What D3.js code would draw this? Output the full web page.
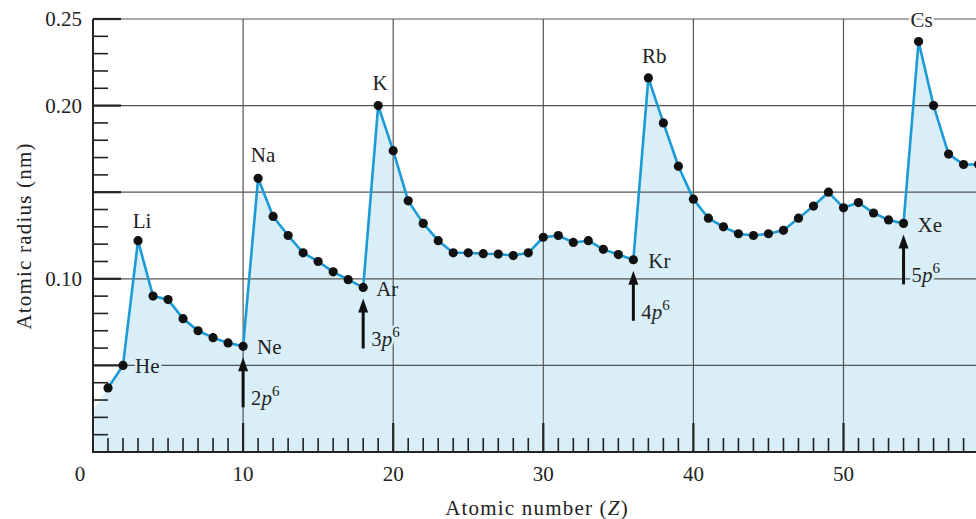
<!DOCTYPE html>
<html>
<head>
<meta charset="utf-8">
<script src="https://cdn.jsdelivr.net/npm/d3@7"></script>
<style>
  html, body { margin: 0; padding: 0; background: #fff; }
  svg { display: block; font-family: "Liberation Serif", "Times New Roman", serif; }
</style>
</head>
<body>
<div id="chart"></div>
<script>
// atomic radius (nm) for Z = 1 .. 59
const radii = [
  0.037, 0.050, 0.122, 0.090, 0.088, 0.077, 0.070, 0.066, 0.063, 0.061,
  0.158, 0.136, 0.125, 0.115, 0.110, 0.104, 0.0995, 0.095,
  0.200, 0.174, 0.145, 0.132, 0.122, 0.115, 0.115, 0.1145, 0.1143, 0.1134,
  0.115, 0.124, 0.125, 0.121, 0.122, 0.117, 0.114, 0.111,
  0.216, 0.190, 0.165, 0.146, 0.135, 0.130, 0.126, 0.125, 0.126, 0.128,
  0.135, 0.142, 0.150, 0.141, 0.144, 0.138, 0.134, 0.132,
  0.237, 0.200, 0.172, 0.166, 0.166
];
const points = radii.map((r, i) => ({ z: i + 1, r: r }));

const elementLabels = [
  { z: 2, name: "He" }, { z: 3, name: "Li" }, { z: 10, name: "Ne" },
  { z: 11, name: "Na" }, { z: 18, name: "Ar" }, { z: 19, name: "K" },
  { z: 36, name: "Kr" }, { z: 37, name: "Rb" }, { z: 54, name: "Xe" },
  { z: 55, name: "Cs" }
];
const shells = [
  { z: 10, n: "2" }, { z: 18, n: "3" }, { z: 36, n: "4" }, { z: 54, n: "5" }
];
const xTickLabels = [0, 10, 20, 30, 40, 50];
const yTickLabels = [0.10, 0.20, 0.25];

const width = 976, height = 519;
const fillColor = "#d9eef7";
const lineColor = "#1b9ad6";

const x = d3.scaleLinear().domain([0, 50]).range([93, 843.5]);
const y = d3.scaleLinear().domain([0, 0.25]).range([452, 19]);

const svg = d3.select("#chart").append("svg")
  .attr("width", width)
  .attr("height", height);

// fill under curve (edge runs on to the axis on the left)
const first = points[0], second = points[1];
const fillPts = [{ z: 0, r: first.r - (second.r - first.r) }].concat(points);
svg.append("path")
  .datum(fillPts)
  .attr("fill", fillColor)
  .attr("d", d3.area().x(d => x(d.z)).y0(y(0)).y1(d => y(d.r)));

// grid
const grid = svg.append("g").attr("stroke", "#555").attr("stroke-width", 1.2);
grid.selectAll("line.h")
  .data([0.05, 0.10, 0.15, 0.20, 0.25])
  .join("line")
  .attr("x1", x(0)).attr("x2", width)
  .attr("y1", d => y(d)).attr("y2", d => y(d));
grid.selectAll("line.v")
  .data([10, 20, 30, 40, 50])
  .join("line")
  .attr("x1", d => x(d)).attr("x2", d => x(d))
  .attr("y1", y(0.25)).attr("y2", y(0));

// ticks
const ticks = svg.append("g").attr("stroke", "#222");
ticks.selectAll("line.xt")
  .data(d3.range(1, 60))
  .join("line")
  .attr("x1", d => x(d)).attr("x2", d => x(d))
  .attr("y1", y(0)).attr("y2", d => y(0) - (d % 10 === 0 ? 29 : 14))
  .attr("stroke-width", d => d % 10 === 0 ? 2.2 : 1.6);
ticks.selectAll("line.yt")
  .data(d3.range(1, 26).map(d => d / 100))
  .join("line")
  .attr("x1", x(0)).attr("x2", (d, i) => x(0) + ((i + 1) % 5 === 0 ? 28 : 15))
  .attr("y1", d => y(d)).attr("y2", d => y(d))
  .attr("stroke-width", (d, i) => (i + 1) % 5 === 0 ? 2.2 : 1.6);

// axes lines
svg.append("line").attr("x1", x(0)).attr("x2", width).attr("y1", y(0)).attr("y2", y(0))
  .attr("stroke", "#222").attr("stroke-width", 2);
svg.append("line").attr("x1", x(0)).attr("x2", x(0)).attr("y1", y(0.25)).attr("y2", y(0) + 1)
  .attr("stroke", "#222").attr("stroke-width", 2);

// tick labels
svg.append("g").selectAll("text")
  .data(xTickLabels)
  .join("text")
  .attr("x", d => d === 0 ? x(0) - 13 : x(d))
  .attr("y", 481)
  .attr("text-anchor", "middle")
  .attr("font-size", 21)
  .attr("fill", "#222")
  .text(d => d);
svg.append("g").selectAll("text")
  .data(yTickLabels)
  .join("text")
  .attr("x", 82)
  .attr("y", d => y(d) + 7)
  .attr("text-anchor", "end")
  .attr("font-size", 21)
  .attr("fill", "#222")
  .text(d => d.toFixed(2));

// axis titles
const xt = svg.append("text")
  .attr("x", 537).attr("y", 515)
  .attr("text-anchor", "middle")
  .attr("font-size", 21)
  .attr("letter-spacing", 1.2)
  .attr("fill", "#222");
xt.append("tspan").text("Atomic number (");
xt.append("tspan").attr("font-style", "italic").text("Z");
xt.append("tspan").text(")");

svg.append("text")
  .attr("transform", "translate(31,236) rotate(-90)")
  .attr("text-anchor", "middle")
  .attr("font-size", 21)
  .attr("letter-spacing", 1.2)
  .attr("fill", "#222")
  .text("Atomic radius (nm)");

// curve and dots
svg.append("path")
  .datum(points)
  .attr("fill", "none")
  .attr("stroke", lineColor)
  .attr("stroke-width", 2.6)
  .attr("stroke-linejoin", "round")
  .attr("d", d3.line().x(d => x(d.z)).y(d => y(d.r)));

svg.append("g").selectAll("circle")
  .data(points)
  .join("circle")
  .attr("cx", d => x(d.z))
  .attr("cy", d => y(d.r))
  .attr("r", 4.6)
  .attr("fill", "#111");

// element labels
const labelPlace = {
  He: [12, 8, "start", fillColor], Li: [4, -13, "middle"], Ne: [14, 8, "start"],
  Na: [5, -16, "middle"], Ar: [13, 9, "start"], K: [2, -16, "middle"],
  Kr: [15, 8, "start"], Rb: [6, -15, "middle"], Xe: [14, 9, "start"],
  Cs: [3, -15, "middle", "#fff"]
};
const byZ = new Map(points.map(d => [d.z, d]));
svg.append("g").selectAll("text")
  .data(elementLabels)
  .join("text")
  .attr("x", d => x(d.z) + labelPlace[d.name][0])
  .attr("y", d => y(byZ.get(d.z).r) + labelPlace[d.name][1])
  .attr("text-anchor", d => labelPlace[d.name][2])
  .attr("font-size", 21)
  .attr("fill", "#222")
  .attr("stroke", d => labelPlace[d.name][3] || "none")
  .attr("stroke-width", 5)
  .attr("paint-order", "stroke")
  .text(d => d.name);

// shell arrows
const arrows = svg.append("g").selectAll("g")
  .data(shells)
  .join("g")
  .attr("transform", d => `translate(${x(d.z)},${y(byZ.get(d.z).r) + 11})`);
arrows.append("line")
  .attr("x1", 0).attr("x2", 0).attr("y1", 8).attr("y2", 50)
  .attr("stroke", "#111").attr("stroke-width", 3);
arrows.append("path")
  .attr("d", "M0,0 L-5,14 L5,14 Z")
  .attr("fill", "#111");
const st = arrows.append("text")
  .attr("x", 8).attr("y", 48)
  .attr("font-size", 21)
  .attr("fill", "#222")
  .attr("stroke", fillColor)
  .attr("stroke-width", 5)
  .attr("paint-order", "stroke");
st.append("tspan").text(d => d.n);
st.append("tspan").attr("font-style", "italic").text("p");
st.append("tspan").attr("dy", -9).attr("font-size", 15).text("6");
</script>
</body>
</html>
